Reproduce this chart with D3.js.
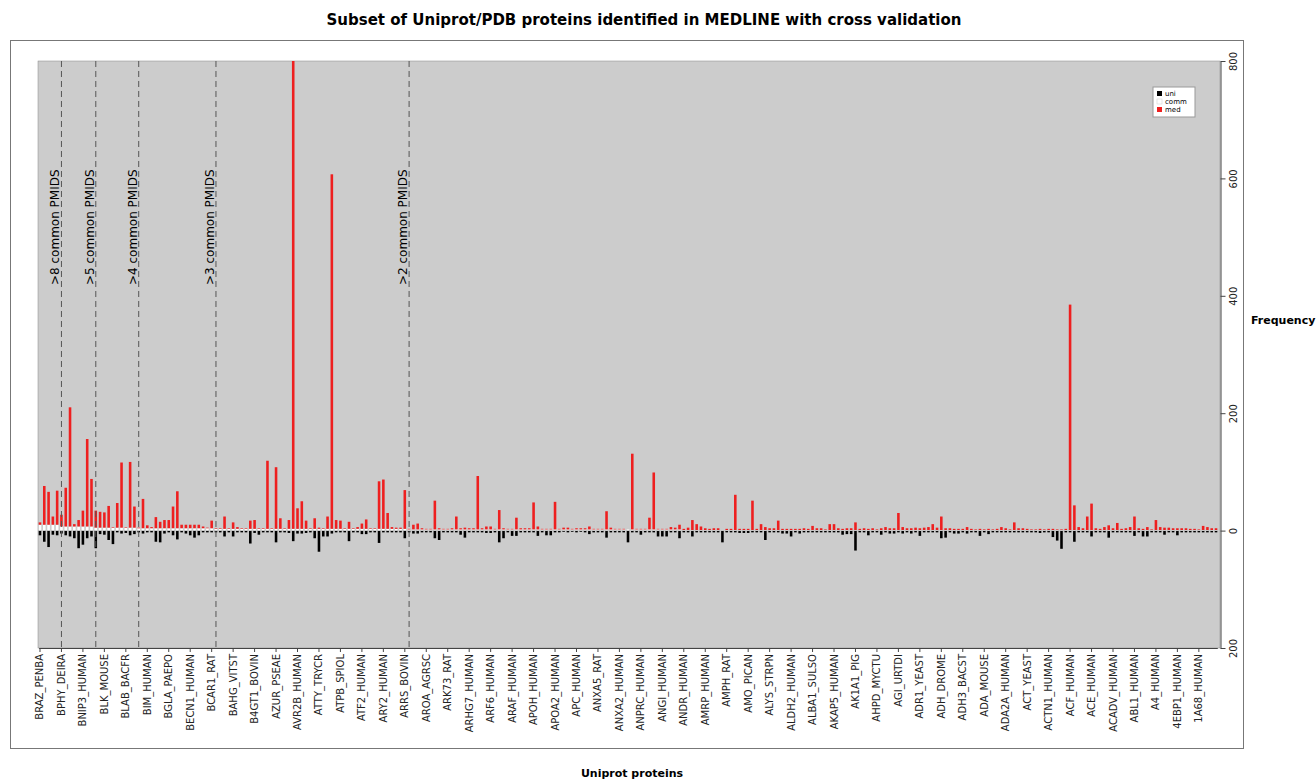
<!DOCTYPE html>
<html>
<head>
<meta charset="utf-8">
<script src="https://cdn.jsdelivr.net/npm/d3@7/dist/d3.min.js"></script>
<style>
  body { margin: 0; background: #fff; }
  svg { display: block; }
  text { font-family: "DejaVu Sans", sans-serif; }
</style>
</head>
<body>
<div id="chart"></div>
<script>
// labelled categories (one every 5 bars)
const labels = ["BRAZ_PENBA","BPHY_DEIRA","BNIP3_HUMAN","BLK_MOUSE","BLAB_BACFR","BIM_HUMAN","BGLA_PAEPO",
  "BECN1_HUMAN","BCAR1_RAT","BAHG_VITST","B4GT1_BOVIN","AZUR_PSEAE","AVR2B_HUMAN","ATTY_TRYCR","ATPB_SPIOL",
  "ATF2_HUMAN","ARY2_HUMAN","ARRS_BOVIN","AROA_AGRSC","ARK73_RAT","ARHG7_HUMAN","ARF6_HUMAN","ARAF_HUMAN",
  "APOH_HUMAN","APOA2_HUMAN","APC_HUMAN","ANXA5_RAT","ANXA2_HUMAN","ANPRC_HUMAN","ANGI_HUMAN","ANDR_HUMAN",
  "AMRP_HUMAN","AMPH_RAT","AMO_PICAN","ALYS_STRPN","ALDH2_HUMAN","ALBA1_SULSO","AKAP5_HUMAN","AK1A1_PIG",
  "AHPD_MYCTU","AGI_URTDI","ADR1_YEAST","ADH_DROME","ADH3_BACST","ADA_MOUSE","ADA2A_HUMAN","ACT_YEAST",
  "ACTN1_HUMAN","ACF_HUMAN","ACE_HUMAN","ACADV_HUMAN","ABL1_HUMAN","A4_HUMAN","4EBP1_HUMAN","1A68_HUMAN"];

// series values, one per protein (275 proteins)
const med = [
  4, 66, 56, 14, 58, 20, 66, 203, 4, 11,
  27, 149, 81, 29, 27, 26, 37, 1, 42, 111,
  1, 112, 36, 1, 50, 5, 2, 19, 11, 14,
  14, 37, 63, 6, 6, 6, 6, 6, 3, 1,
  13, 1, 1, 21, 1, 11, 3, 1, 1, 14,
  15, 1, 1, 116, 1, 105, 18, 1, 15, 797,
  35, 47, 14, 1, 18, 2, 1, 21, 604, 15,
  14, 1, 12, 1, 3, 9, 16, 1, 1, 81,
  84, 27, 3, 2, 2, 66, 1, 8, 10, 2,
  1, 1, 49, 2, 1, 1, 2, 22, 2, 3,
  2, 2, 91, 2, 5, 5, 1, 33, 2, 1,
  1, 20, 2, 2, 2, 46, 5, 1, 1, 1,
  47, 1, 3, 3, 1, 2, 2, 2, 5, 1,
  1, 1, 31, 3, 1, 1, 1, 0, 129, 1,
  1, 1, 20, 97, 1, 1, 1, 4, 3, 8,
  2, 4, 17, 10, 6, 3, 2, 3, 3, 0,
  2, 2, 60, 2, 2, 2, 50, 2, 10, 5,
  3, 3, 16, 2, 2, 2, 2, 2, 3, 2,
  7, 3, 3, 1, 10, 10, 3, 2, 3, 3,
  13, 2, 3, 2, 3, 1, 3, 5, 3, 3,
  29, 5, 3, 3, 4, 3, 4, 5, 10, 4,
  23, 3, 3, 2, 2, 2, 5, 2, 1, 2,
  1, 2, 1, 2, 5, 3, 1, 13, 3, 3,
  2, 1, 1, 2, 1, 2, 2, 1, 1, 2,
  384, 42, 5, 3, 23, 45, 3, 2, 5, 8,
  3, 12, 2, 3, 5, 23, 3, 2, 5, 1,
  17, 5, 4, 4, 3, 3, 3, 3, 2, 2,
  1, 7, 5, 3, 3];

const comm = [
  10, 10, 10, 10, 10, 7, 7, 7, 7, 7,
  7, 7, 7, 5, 5, 5, 5, 5, 5, 5,
  5, 5, 5, 4, 4, 4, 4, 4, 4, 4,
  4, 4, 4, 4, 4, 4, 4, 4, 4, 4,
  4, 3, 3, 3, 3, 3, 3, 3, 3, 3,
  3, 3, 3, 3, 3, 3, 3, 3, 3, 3,
  3, 3, 3, 3, 3, 3, 3, 3, 3, 3,
  3, 3, 3, 3, 3, 3, 3, 3, 3, 3,
  3, 3, 3, 3, 3, 3, 2, 2, 2, 2,
  2, 2, 2, 2, 2, 2, 2, 2, 2, 2,
  2, 2, 2, 2, 2, 2, 2, 2, 2, 2,
  2, 2, 2, 2, 2, 2, 2, 2, 2, 2,
  2, 2, 2, 2, 2, 2, 2, 2, 2, 2,
  2, 2, 2, 2, 2, 2, 2, 2, 2, 2,
  2, 2, 2, 2, 2, 2, 2, 2, 2, 2,
  1, 1, 1, 1, 1, 1, 1, 1, 1, 1,
  1, 1, 1, 1, 1, 1, 1, 1, 1, 1,
  1, 1, 1, 1, 1, 1, 1, 1, 1, 1,
  1, 1, 1, 1, 1, 1, 1, 1, 1, 1,
  1, 1, 1, 1, 1, 1, 1, 1, 1, 1,
  1, 1, 1, 1, 1, 1, 1, 1, 1, 1,
  1, 1, 1, 1, 1, 1, 1, 1, 1, 1,
  1, 1, 1, 1, 1, 1, 1, 1, 1, 1,
  1, 1, 1, 1, 1, 1, 1, 1, 1, 1,
  1, 1, 1, 1, 1, 1, 1, 1, 1, 1,
  1, 1, 1, 1, 1, 1, 1, 1, 1, 1,
  1, 1, 1, 1, 1, 1, 1, 1, 1, 1,
  1, 1, 1, 1, 1];

const uni = [
  8, 19, 28, 7, 8, 5, 8, 10, 13, 30,
  24, 13, 10, 30, 6, 7, 16, 23, 3, 5,
  4, 8, 6, 3, 5, 3, 3, 19, 20, 5,
  3, 8, 15, 3, 5, 8, 12, 8, 3, 3,
  3, 3, 3, 10, 3, 10, 3, 3, 3, 22,
  4, 7, 3, 3, 3, 20, 3, 3, 4, 18,
  5, 5, 4, 3, 13, 36, 10, 10, 5, 3,
  3, 3, 18, 3, 3, 6, 6, 3, 3, 21,
  3, 3, 3, 3, 3, 13, 3, 5, 5, 3,
  3, 3, 13, 16, 3, 3, 3, 3, 7, 12,
  3, 3, 3, 3, 4, 4, 3, 20, 13, 3,
  9, 9, 3, 3, 3, 3, 9, 3, 8, 8,
  3, 3, 2, 3, 2, 3, 2, 3, 6, 3,
  3, 3, 12, 3, 3, 3, 3, 20, 3, 3,
  7, 3, 3, 3, 10, 10, 10, 3, 3, 13,
  3, 3, 10, 3, 3, 3, 3, 3, 3, 20,
  3, 3, 3, 4, 4, 4, 3, 3, 3, 16,
  3, 3, 3, 5, 5, 10, 3, 5, 3, 3,
  3, 3, 3, 3, 3, 3, 3, 7, 6, 6,
  34, 3, 3, 8, 3, 3, 7, 3, 5, 5,
  3, 5, 3, 5, 3, 9, 3, 3, 3, 3,
  13, 12, 3, 5, 5, 3, 5, 3, 3, 9,
  3, 6, 3, 3, 3, 3, 3, 3, 3, 3,
  3, 3, 3, 4, 3, 3, 11, 17, 31, 3,
  3, 19, 3, 3, 3, 10, 3, 3, 3, 12,
  3, 3, 3, 3, 3, 9, 3, 10, 10, 3,
  3, 3, 7, 3, 3, 8, 3, 3, 3, 3,
  3, 3, 3, 3, 3];

// category markers (first protein of each group)
const markerAt = [5, 13, 23, 41, 86];
const markerText = [">8 common PMIDS", ">5 common PMIDS", ">4 common PMIDS", ">3 common PMIDS", ">2 common PMIDS"];

const yTicks = [800, 600, 400, 200, 0, -200];
const seriesNames = ["uni", "comm", "med"];
const seriesColors = ["#000000", "#ffffff", "#ee1f1f"];

const W = 1316, H = 782;
const plot = { left: 38, right: 1220, top: 61, bottom: 648 };

const svg = d3.select("#chart").append("svg")
  .attr("width", W).attr("height", H);

// chart frame
svg.append("rect").attr("x", 10.5).attr("y", 40.5).attr("width", 1233).attr("height", 708)
  .attr("fill", "none").attr("stroke", "#777");

svg.append("text").attr("x", 644).attr("y", 25).attr("text-anchor", "middle")
  .style("font-size", "15px").style("font-weight", "bold")
  .text("Subset of Uniprot/PDB proteins identified in MEDLINE with cross validation");

const x = d3.scaleBand().domain(d3.range(med.length)).range([plot.left + 0.7, plot.right - 2.7])
  .paddingInner(0.4).paddingOuter(0);
const y = d3.scaleLinear().domain([-200, 800]).range([plot.bottom, plot.top]);

svg.append("rect").attr("x", plot.left).attr("y", plot.top)
  .attr("width", plot.right - plot.left).attr("height", plot.bottom - plot.top)
  .attr("fill", "#cccccc").attr("stroke", "#888").attr("stroke-width", 0.5);

// stacked bars: uni below zero, comm then med above
const rows = med.map((m, i) => ({ i, uni: uni[i], comm: comm[i], med: m }));
const g = svg.append("g");
g.selectAll("rect.uni").data(rows).join("rect").attr("class", "uni")
  .attr("x", d => x(d.i)).attr("width", x.bandwidth())
  .attr("y", y(0)).attr("height", d => y(-d.uni) - y(0)).attr("fill", seriesColors[0]);
g.selectAll("rect.comm").data(rows).join("rect").attr("class", "comm")
  .attr("x", d => x(d.i)).attr("width", x.bandwidth())
  .attr("y", d => y(d.comm)).attr("height", d => y(0) - y(d.comm)).attr("fill", seriesColors[1]);
g.selectAll("rect.med").data(rows).join("rect").attr("class", "med")
  .attr("x", d => x(d.i)).attr("width", x.bandwidth())
  .attr("y", d => y(d.comm + d.med)).attr("height", d => y(d.comm) - y(d.comm + d.med)).attr("fill", seriesColors[2]);

// markers
const cx = i => x(i) + x.bandwidth() / 2;
svg.selectAll("line.marker").data(markerAt).join("line").attr("class", "marker")
  .attr("x1", d => cx(d)).attr("x2", d => cx(d)).attr("y1", plot.top).attr("y2", plot.bottom)
  .attr("stroke", "#555").attr("stroke-dasharray", "6,4");
svg.selectAll("text.marker").data(markerAt).join("text").attr("class", "marker")
  .attr("transform", d => `translate(${cx(d) - 2},285) rotate(-90)`)
  .style("font-size", "12px").text((d, i) => markerText[i]);

// x axis
const xAxis = svg.append("g").attr("transform", `translate(0,${plot.bottom})`)
  .call(d3.axisBottom(x).tickValues(d3.range(0, med.length, 5)).tickFormat(i => labels[i / 5]).tickSize(4).tickSizeOuter(0));
xAxis.select(".domain").attr("stroke", "#444");
xAxis.selectAll(".tick line").attr("stroke", "#444");
xAxis.selectAll("text").attr("transform", "rotate(-90)").attr("x", -6).attr("y", 0).attr("dy", "0.35em")
  .style("text-anchor", "end").style("font-size", "10px").attr("fill", "#222");

// y axis on the right
const yAxis = svg.append("g").attr("transform", `translate(${plot.right + 0.5},0)`)
  .call(d3.axisRight(y).tickValues(yTicks).tickFormat(d => Math.abs(d)).tickSize(5).tickSizeOuter(0));
yAxis.select(".domain").attr("stroke", "#444");
yAxis.selectAll(".tick line").attr("stroke", "#444");
yAxis.selectAll("text").attr("x", 0).attr("dy", 0).attr("transform", "translate(16,0) rotate(-90)")
  .style("text-anchor", "middle").style("font-size", "10px").attr("fill", "#222");

svg.append("text").attr("x", 632).attr("y", 777).attr("text-anchor", "middle")
  .style("font-size", "11px").style("font-weight", "bold").text("Uniprot proteins");
svg.append("text").attr("x", 1251).attr("y", 324)
  .style("font-size", "11px").style("font-weight", "bold").text("Frequency");

// legend
const lg = svg.append("g").attr("transform", "translate(1153,87)");
lg.append("rect").attr("width", 42).attr("height", 30).attr("fill", "#fff").attr("stroke", "#999");
seriesNames.forEach((s, i) => {
  lg.append("rect").attr("x", 4).attr("y", 4 + i * 8).attr("width", 5).attr("height", 5)
    .attr("fill", seriesColors[i]).attr("stroke", i === 1 ? "#ccc" : "none").attr("stroke-width", 0.5);
  lg.append("text").attr("x", 12).attr("y", 9 + i * 8).style("font-size", "7px").text(s);
});
</script>
</body>
</html>
